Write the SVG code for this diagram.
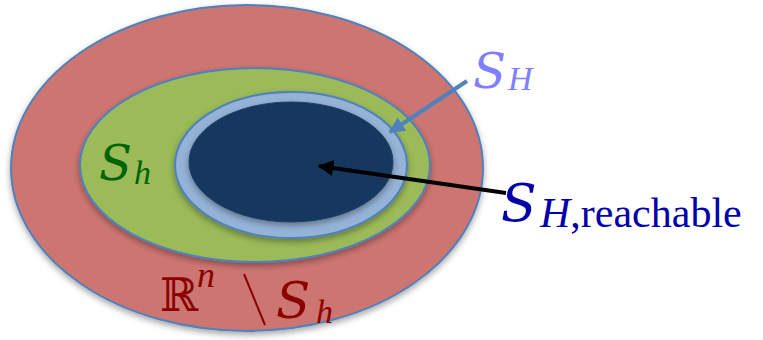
<svg xmlns="http://www.w3.org/2000/svg" width="763" height="340" viewBox="0 0 763 340">
<style>
.e{stroke:#4f81bd;stroke-width:2}
.m{font-family:"Liberation Serif","DejaVu Serif",serif;font-style:italic}
.s{font-family:"DejaVu Serif",serif;font-style:italic}
</style>
<defs>
<filter id="sh" x="-10%" y="-10%" width="120%" height="125%">
<feDropShadow dx="0" dy="3" stdDeviation="3" flood-color="#000" flood-opacity="0.35"/>
</filter>
<marker id="ab" viewBox="0 0 10 10" refX="9" refY="5" markerWidth="4" markerHeight="4" orient="auto"><path d="M0,0 L10,5 L0,10 z" fill="#4f81bd"/></marker>
<marker id="ak" viewBox="0 0 10 10" refX="9" refY="5" markerWidth="4" markerHeight="4" orient="auto"><path d="M0,0 L10,5 L0,10 z" fill="#000"/></marker>
</defs>
<g id="outer"><ellipse class="e" cx="247" cy="168" rx="236" ry="163" fill="#cd7471" filter="url(#sh)"/>
<text x="160" y="311" font-family="DejaVu Serif,serif" font-size="46" fill="#8b0000">ℝ</text>
<text x="197" y="287" class="m" font-size="36" fill="#8b0000">n</text>
<line x1="244" y1="274" x2="265" y2="325" stroke="#8b0000" stroke-width="2"/>
<text x="276" y="318" class="s" font-size="50" fill="#8b0000">S</text>
<text x="316" y="323" class="m" font-size="34" fill="#8b0000">h</text>
</g>
<g id="green"><ellipse class="e" cx="255" cy="165" rx="175" ry="97" fill="#9bbb59" filter="url(#sh)"/>
<text x="99" y="180" class="s" font-size="48" fill="#006400">S</text>
<text x="134" y="184" class="m" font-size="34" fill="#006400">h</text>
</g>
<g id="sH"><ellipse class="e" cx="291" cy="165" rx="116" ry="73" fill="#95b3d7" filter="url(#sh)"/>
<text x="473" y="88" class="s" font-size="48" fill="#7f7fff">S</text>
<text x="508" y="90" class="m" font-size="34" fill="#7f7fff">H</text>
</g>
<g id="reach"><ellipse cx="291" cy="162" rx="102" ry="60" fill="#17375e" stroke="#1f3f66" stroke-width="1" filter="url(#sh)"/>
<text x="501" y="221" class="s" font-size="52" fill="#0000aa">S</text>
<text x="540" y="227" class="m" font-size="42" fill="#0000aa">H<tspan font-style="normal">,reachable</tspan></text>
</g>
<g id="connectors">
<line x1="467" y1="81" x2="390" y2="132" stroke="#4f81bd" stroke-width="4" marker-end="url(#ab)"/>
<line x1="506" y1="193" x2="319" y2="166" stroke="#000" stroke-width="4" marker-end="url(#ak)"/>
</g>
</svg>
